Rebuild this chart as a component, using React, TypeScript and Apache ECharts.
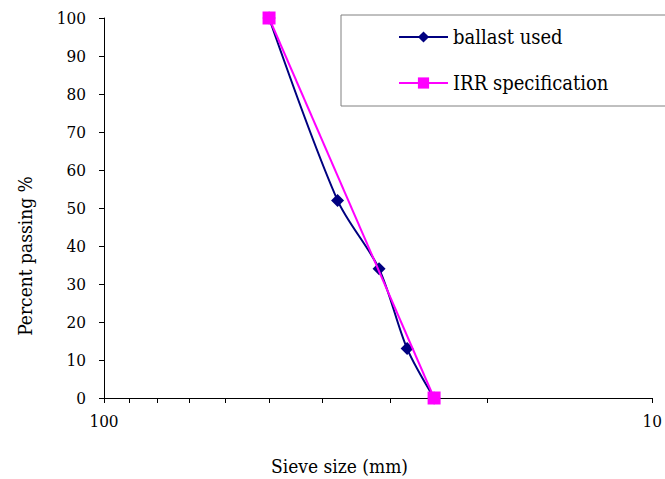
import React, { useEffect, useRef } from "react";
import * as echarts from "echarts";

// Sieve sizes (mm) and percentage passing
const ballastSizes = [50, 37.5, 31.5, 28, 25];
const ballastPassing = [100, 52, 34, 13, 0];
const specSizes = [50, 25];
const specPassing = [100, 0];

const xTickValues = [100, 90, 80, 70, 60, 50, 40, 30, 20, 10];
const xLabelValues = [100, 10];

const FONT = "DejaVu Serif Condensed";

export default function App() {
  const ref = useRef<HTMLDivElement>(null);

  useEffect(() => {
    if (!ref.current) return;
    const chart = echarts.init(ref.current, null, { renderer: "svg" });
    chart.setOption({
      animation: false,
      backgroundColor: "#ffffff",
      textStyle: { fontFamily: FONT },
      grid: { left: 104, right: 12, top: 18, bottom: 81 },
      legend: {
        orient: "vertical",
        left: 341,
        top: 15,
        padding: [12, 80, 13, 57],
        itemGap: 26,
        itemWidth: 49,
        itemHeight: 14,
        borderColor: "#808080",
        borderWidth: 1,
        backgroundColor: "#ffffff",
        textStyle: { fontFamily: FONT, fontSize: 20, color: "#000", lineHeight: 20 },
        data: ["ballast used", "IRR specification"],
      },
      xAxis: {
        type: "log",
        logBase: 10,
        min: 10,
        max: 100,
        inverse: true,
        axisLine: { lineStyle: { color: "#000", width: 1 } },
        axisTick: {
          show: true,
          length: 5,
          customValues: xTickValues,
          lineStyle: { color: "#000" },
        },
        axisLabel: {
          customValues: xLabelValues,
          margin: 14,
          fontFamily: FONT,
          fontSize: 17,
          color: "#000",
          formatter: (v: number) => String(Math.round(v)),
        },
        splitLine: { show: false },
        minorTick: { show: false },
      },
      yAxis: {
        type: "value",
        min: 0,
        max: 100,
        interval: 10,
        axisLine: { show: true, lineStyle: { color: "#000", width: 1 } },
        axisTick: { show: true, length: 5, lineStyle: { color: "#000" } },
        axisLabel: { margin: 18, fontFamily: FONT, fontSize: 17, color: "#000" },
        splitLine: { show: false },
      },
      graphic: [
        {
          type: "text",
          left: 271,
          top: 456,
          style: { text: "Sieve size (mm)", fontFamily: FONT, fontSize: 19, fill: "#000" },
        },
        {
          type: "text",
          x: 25,
          y: 256,
          rotation: Math.PI / 2,
          style: {
            text: "Percent passing %",
            fontFamily: FONT,
            fontSize: 19,
            fill: "#000",
            align: "center",
            verticalAlign: "middle",
          },
        },
      ],
      series: [
        {
          name: "ballast used",
          type: "line",
          data: ballastSizes.map((s, i) => [s, ballastPassing[i]]),
          smooth: 0.3,
          symbol: "diamond",
          symbolSize: 13,
          itemStyle: { color: "#000080" },
          lineStyle: { color: "#000080", width: 2 },
          z: 2,
        },
        {
          name: "IRR specification",
          type: "line",
          data: specSizes.map((s, i) => [s, specPassing[i]]),
          symbol: "rect",
          symbolSize: 13,
          itemStyle: { color: "#ff00ff" },
          lineStyle: { color: "#ff00ff", width: 2 },
          z: 3,
        },
      ],
    });
    return () => chart.dispose();
  }, []);

  return (
    <div
      ref={ref}
      style={{ width: 665, height: 479, position: "absolute", left: 0, top: 0 }}
    />
  );
}
